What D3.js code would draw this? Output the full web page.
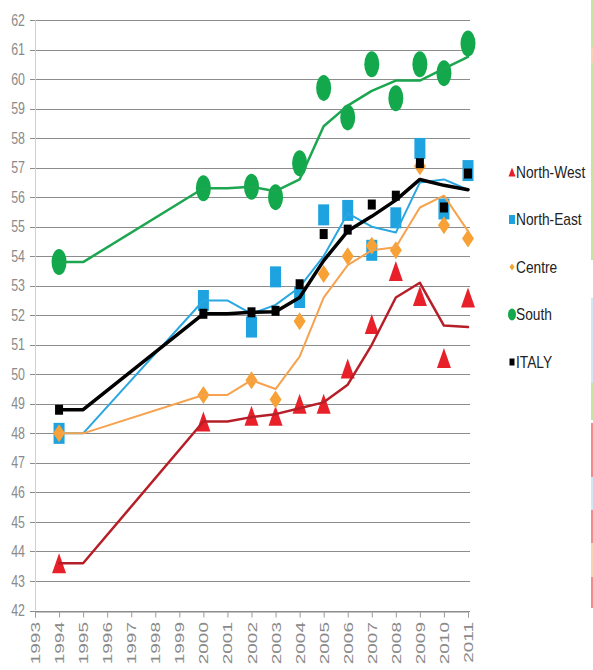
<!DOCTYPE html>
<html>
<head>
<meta charset="utf-8">
<script src="https://cdn.jsdelivr.net/npm/d3@7"></script>
<style>
  html, body { margin: 0; padding: 0; background: #fff; }
  svg { display: block; }
</style>
</head>
<body>
<svg id="chart" width="593" height="670"></svg>
<script>
// ---------------- DATA ----------------
const categories = [1993,1994,1995,1996,1997,1998,1999,2000,2001,2002,2003,2004,2005,2006,2007,2008,2009,2010,2011];
const yTicks = [42,43,44,45,46,47,48,49,50,51,52,53,54,55,56,57,58,59,60,61,62];

const markerYears = [1994,2000,2002,2003,2004,2005,2006,2007,2008,2009,2010,2011];
const trendYears  = [1994,1995,2000,2001,2002,2003,2004,2005,2006,2007,2008,2009,2010,2011];

const seriesNames = ["North-West","North-East","Centre","South","ITALY"];

const northWest      = [43.6,48.4,48.6,48.6,49.0,49.0,50.2,51.7,53.5,52.65,50.55,52.6];
const northWestTrend = [43.6,43.6,48.4,48.4,48.55,48.65,48.85,49.05,49.65,51.0,52.6,53.1,51.65,51.6];

const northEast      = [48.0,52.5,51.6,53.3,52.6,55.4,55.55,54.2,55.3,57.65,55.6,56.9];
const northEastTrend = [48.0,48.0,52.5,52.5,52.05,52.35,52.95,54.0,55.45,55.0,54.8,56.5,56.6,56.25];

const centre         = [48.0,49.3,49.8,49.15,51.8,53.4,54.0,54.35,54.2,57.05,55.05,54.6];
const centreTrend    = [48.0,48.0,49.3,49.3,49.8,49.5,50.6,52.6,53.7,54.2,54.3,55.65,56.05,54.85];

const south          = [53.8,56.3,56.35,56.0,57.15,59.7,58.7,60.5,59.35,60.5,60.2,61.2];
const southTrend     = [53.8,53.8,56.3,56.3,56.35,56.2,56.6,58.4,59.1,59.6,59.95,59.95,60.35,60.75];

const italy          = [48.8,52.05,52.1,52.15,53.05,54.75,54.9,55.75,56.05,57.15,55.65,56.8];
const italyTrend     = [48.8,48.8,52.05,52.05,52.1,52.12,52.6,53.85,54.85,55.35,55.9,56.6,56.4,56.25];

// ---------------- STYLE ----------------
const styles = {
  "North-West": {marker:"triangle", fill:"#E8202A", line:"#B71F28", lw:2.5, w:14, h:20, lgw:7, lgh:9},
  "North-East": {marker:"rect",     fill:"#1EA3E0", line:"#2AA7E0", lw:2,   w:11, h:21, lgw:6, lgh:9},
  "Centre":     {marker:"diamond",  fill:"#F7A136", line:"#F6A24E", lw:2,   w:12, h:18, lgw:5, lgh:7},
  "South":      {marker:"ellipse",  fill:"#12A84B", line:"#1DA650", lw:2.5, w:15, h:26, lgw:8, lgh:12},
  "ITALY":      {marker:"rect",     fill:"#000000", line:"#000000", lw:3.5, w:8,  h:10, lgw:5, lgh:7}
};
const markerData = {"North-West":northWest,"North-East":northEast,"Centre":centre,"South":south,"ITALY":italy};
const trendData  = {"North-West":northWestTrend,"North-East":northEastTrend,"Centre":centreTrend,"South":southTrend,"ITALY":italyTrend};

// ---------------- CHART ----------------
const svg = d3.select("#chart");
const x = d3.scalePoint().domain(categories).range([35, 468]);
const y = d3.scaleLinear().domain([42, 62]).range([610.5, 20]);

// gridlines
svg.append("g").selectAll("line").data(yTicks).join("line")
  .attr("x1", 30).attr("x2", 470)
  .attr("y1", d => Math.round(y(d)) + 0.5).attr("y2", d => Math.round(y(d)) + 0.5)
  .attr("stroke", "#8c8c8c").attr("stroke-width", 1);

// y axis line
svg.append("line").attr("x1", 35.5).attr("x2", 35.5).attr("y1", y(62)).attr("y2", y(42))
  .attr("stroke", "#cfcfcf").attr("stroke-width", 1);

// y labels
svg.append("g").selectAll("text").data(yTicks).join("text")
  .attr("transform", d => `translate(25,${y(d)}) scale(0.8,1.05)`)
  .attr("text-anchor", "end").attr("dominant-baseline", "central")
  .attr("font-family", "'Liberation Sans', Arial, sans-serif").attr("font-size", 15.5)
  .attr("fill", "#8a8a8a").text(d => d);

// x axis
const xAxis = svg.append("g").attr("transform", `translate(0,${Math.round(y(42)) + 0.5})`)
  .call(d3.axisBottom(x).tickSize(6).tickFormat(""));
xAxis.select(".domain").attr("stroke", "#8c8c8c");
xAxis.selectAll(".tick line").attr("stroke", "#9a9a9a");

svg.append("g").selectAll("text").data(categories).join("text")
  .attr("transform", d => `translate(${x(d) + 5},622) scale(0.72,1) rotate(-90)`)
  .attr("text-anchor", "end")
  .attr("font-family", "'Liberation Sans', Arial, sans-serif").attr("font-size", 19)
  .attr("fill", "#8a8a8a").text(d => d);

// marker drawing
function drawMarker(sel, st, w, h) {
  if (st.marker === "triangle") {
    sel.append("path").attr("d", `M0,${-h/2}L${w/2},${h/2}L${-w/2},${h/2}Z`).attr("fill", st.fill);
  } else if (st.marker === "rect") {
    sel.append("rect").attr("x", -w/2).attr("y", -h/2).attr("width", w).attr("height", h).attr("fill", st.fill);
  } else if (st.marker === "diamond") {
    sel.append("path").attr("d", `M0,${-h/2}L${w/2},0L0,${h/2}L${-w/2},0Z`).attr("fill", st.fill);
  } else {
    sel.append("ellipse").attr("rx", w/2).attr("ry", h/2).attr("fill", st.fill);
  }
}

const lineGen = d3.line().x(d => x(d[0])).y(d => y(d[1]));

seriesNames.forEach(name => {
  const st = styles[name];
  const g = svg.append("g");
  const pts = markerYears.map((yr, i) => [yr, markerData[name][i]]);
  g.selectAll("g.m").data(pts).join("g").attr("class", "m")
    .attr("transform", d => `translate(${x(d[0])},${y(d[1])})`)
    .each(function() { drawMarker(d3.select(this), st, st.w, st.h); });
  const tr = trendYears.map((yr, i) => [yr, trendData[name][i]]);
  g.append("path").datum(tr).attr("d", lineGen)
    .attr("fill", "none").attr("stroke", st.line).attr("stroke-width", st.lw)
    .attr("stroke-linejoin", "round").attr("stroke-linecap", "round");
});

// legend
const legend = svg.append("g");
seriesNames.forEach((name, i) => {
  const st = styles[name];
  const cy = 172 + i * 47.5;
  const mg = legend.append("g").attr("transform", `translate(512,${cy})`);
  drawMarker(mg, st, st.lgw, st.lgh);
  legend.append("text")
    .attr("transform", `translate(516,${cy}) scale(0.86,1)`)
    .attr("dominant-baseline", "central")
    .attr("font-family", "'Liberation Sans', Arial, sans-serif")
    .attr("font-size", 16).attr("fill", "#222").text(name);
});

// right edge frame remnant
const edge = [[0,47,"#c6e3a4"],[47,63,"#f7d3b0"],[63,260,"#c6e3a4"],[298,383,"#cfe8f5"],[383,420,"#c6e3a4"],[423,477,"#f58a8e"],[477,510,"#cfe8f5"],[510,543,"#f58a8e"],[543,577,"#f7d3b0"],[577,608,"#f58a8e"]];
svg.append("g").selectAll("line").data(edge).join("line")
  .attr("x1", 592).attr("x2", 592).attr("y1", d => d[0]).attr("y2", d => d[1])
  .attr("stroke", d => d[2]).attr("stroke-width", 2);
</script>
</body>
</html>
